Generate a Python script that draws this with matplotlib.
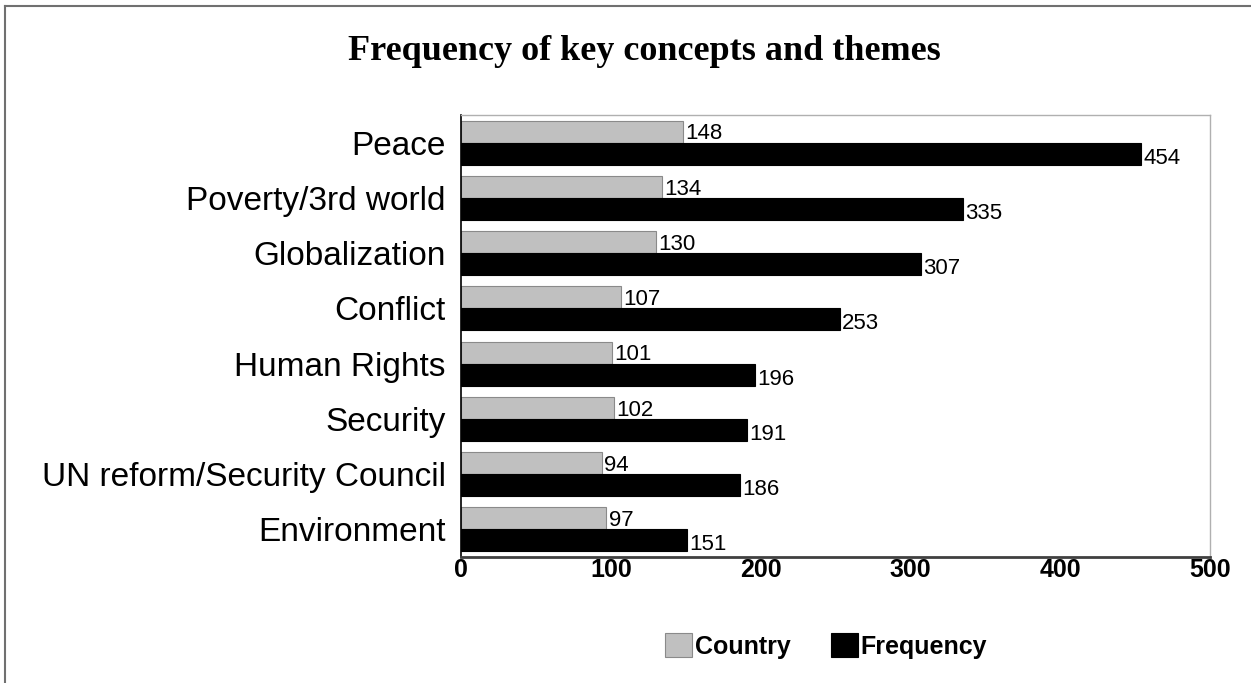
import matplotlib.pyplot as plt
import numpy as np
from matplotlib.lines import Line2D

categories = ['Peace', 'Poverty/3rd world', 'Globalization', 'Conflict',
              'Human Rights', 'Security', 'UN reform/Security Council', 'Environment']
country = [148, 134, 130, 107, 101, 102, 94, 97]
frequency = [454, 335, 307, 253, 196, 191, 186, 151]
xticks = [0, 100, 200, 300, 400, 500]

plt.rcParams['font.family'] = ['Liberation Sans', 'DejaVu Sans']

fig = plt.figure(figsize=(12.51, 6.83), dpi=100)
ax = fig.add_axes([461 / 1251, 1 - 557 / 683, (1210 - 461) / 1251, (557 - 115) / 683])

y = np.arange(len(categories))
h = 0.4
b1 = ax.barh(y - h / 2, country, height=h, color='#c0c0c0', edgecolor='#8a8a8a', linewidth=0.8, label='Country')
b2 = ax.barh(y + h / 2, frequency, height=h, color='black', edgecolor='black', linewidth=0.8, label='Frequency')

for rect, v in zip(b1, country):
    ax.text(v + 1.5, rect.get_y() + rect.get_height() / 2 + 0.04, str(v), va='center', ha='left', fontsize=16)
for rect, v in zip(b2, frequency):
    ax.text(v + 1.5, rect.get_y() + rect.get_height() / 2 + 0.08, str(v), va='center', ha='left', fontsize=16)

ax.set_ylim(len(categories) - 0.5, -0.5)
ax.set_xlim(0, 500)
ax.set_yticks(y)
ax.set_yticklabels(categories, fontsize=24)
ax.set_xticks(xticks)
ax.set_xticklabels([str(t) for t in xticks], fontsize=18, fontweight='bold')
ax.tick_params(axis='y', length=0, pad=11)
ax.tick_params(axis='x', length=0, pad=1)

for s in ['top', 'right']:
    ax.spines[s].set_color('#b0b0b0')
    ax.spines[s].set_linewidth(1)
ax.spines['left'].set_color('black')
ax.spines['left'].set_linewidth(1.2)
ax.spines['bottom'].set_color('#404040')
ax.spines['bottom'].set_linewidth(2)

fig.text(0.515, 1 - 51 / 683, 'Frequency of key concepts and themes', ha='center', va='center',
         fontsize=26, fontweight='bold', family='Liberation Serif')

leg = fig.legend(handles=[b1, b2], loc='center', bbox_to_anchor=(826 / 1251, 1 - 646 / 683),
                 ncol=2, frameon=False, prop={'size': 18, 'weight': 'bold'},
                 handlelength=1.1, handleheight=1.1, handletextpad=0.1, columnspacing=1.6)

# figure border (top and left only)
fig.add_artist(Line2D([5 / 1251, 5 / 1251], [0, 1 - 6 / 683], transform=fig.transFigure, color='#707070', lw=1.5))
fig.add_artist(Line2D([5 / 1251, 1], [1 - 6 / 683, 1 - 6 / 683], transform=fig.transFigure, color='#707070', lw=1.5))

plt.savefig('out.png', dpi=100)
